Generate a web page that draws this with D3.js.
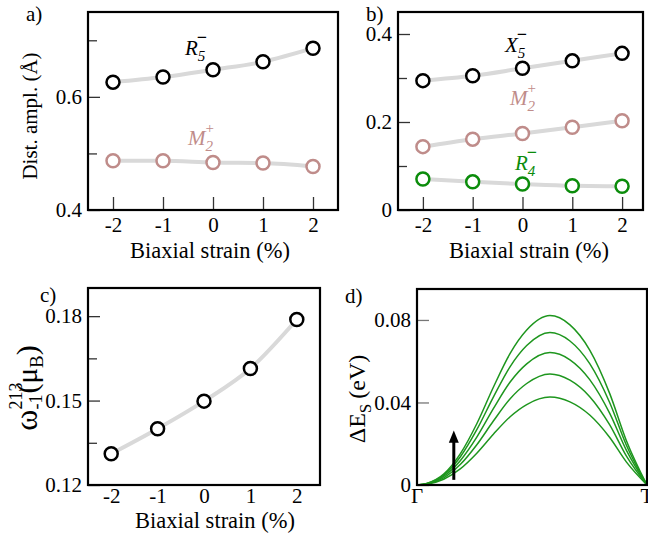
<!DOCTYPE html>
<html>
<head>
<meta charset="utf-8">
<script src="https://cdn.jsdelivr.net/npm/d3@7"></script>
<style>
body { margin: 0; background: #fff; }
text { font-family: "Liberation Serif", "Times New Roman", Tinos, serif; fill: #000; }
</style>
</head>
<body>
<div id="wrapper"></div>
<script>
width = 648
height = 540

// strain values shared by panels a, b, c
const strain = [-2, -1, 0, 1, 2]

// a) distortion amplitudes
const aR5 = [0.626, 0.635, 0.648, 0.662, 0.686]
const aM2 = [0.487, 0.487, 0.484, 0.483, 0.477]

// b)
const bX5 = [0.294, 0.305, 0.322, 0.339, 0.356]
const bM2 = [0.144, 0.161, 0.174, 0.188, 0.203]
const bR4 = [0.0705, 0.064, 0.059, 0.055, 0.054]

// c) omega
const cOmega = [0.1311, 0.140, 0.1498, 0.1614, 0.1788]

// d) energy path, fraction along Γ -> T
const dPos = [0, 0.043, 0.116, 0.188, 0.26, 0.332, 0.405, 0.477, 0.578, 0.665, 0.751, 0.838, 0.91, 1]
const dE1 = [0, 0.0004, 0.0028, 0.0078, 0.0154, 0.0246, 0.0331, 0.0390, 0.0426, 0.0403, 0.0339, 0.0230, 0.0112, 0]
const dE2 = [0, 0.0005, 0.0035, 0.0099, 0.0195, 0.0310, 0.0418, 0.0492, 0.0538, 0.0508, 0.0428, 0.0291, 0.0141, 0]
const dE3 = [0, 0.0006, 0.0042, 0.0118, 0.0232, 0.0370, 0.0499, 0.0587, 0.0642, 0.0607, 0.0511, 0.0347, 0.0169, 0]
const dE4 = [0, 0.0007, 0.0048, 0.0136, 0.0268, 0.0426, 0.0574, 0.0676, 0.0739, 0.0698, 0.0588, 0.0399, 0.0194, 0]
const dE5 = [0, 0.0008, 0.0053, 0.0151, 0.0297, 0.0474, 0.0638, 0.0751, 0.0821, 0.0776, 0.0654, 0.0443, 0.0216, 0]
const dPathLabels = ["Γ", "T"]

const black = "#000", rosy = "#bf8c8a", green = "#0b8c0b", lineGreen = "#1e961e", gray = "#d9d9d9"
const serif = '"Liberation Serif", "Times New Roman", Tinos, serif'

const svg = d3.select("#wrapper").append("svg")
    .attr("width", width)
    .attr("height", height)
    .attr("font-family", serif)

// puts pieces of text one after another (sub/superscripts), optionally centred and rotated
function richText(x, y, pieces, center, rotate) {
    const g = svg.append("g").attr("transform", `translate(${x},${y})` + (rotate ? " rotate(-90)" : ""))
    let cx = 0
    pieces.forEach(p => {
        const t = g.append("text")
            .attr("x", cx + (p.dx || 0))
            .attr("y", p.dy || 0)
            .style("font-family", serif)
            .style("font-size", p.size + "px")
            .text(p.text)
        if (p.italic) t.style("font-style", "italic")
        if (p.bold) t.style("font-weight", "bold")
        if (p.fill) t.style("fill", p.fill)
        const w = t.node().getComputedTextLength()
        if (!p.stack) cx += w + (p.dx || 0)
    })
    if (center) g.selectAll("text").attr("x", function () { return +d3.select(this).attr("x") - cx / 2 })
    return g
}

function modeLabel(x, y, base, sub, sup, color) {
    const supPiece = sup === "−"
        ? { text: "−", size: 18, dy: -12, dx: -1, bold: true, fill: color }
        : { text: sup, size: 15, dy: -12, fill: color }
    richText(x, y, [
        { text: base, size: 21, italic: true, fill: color },
        { text: sub, size: 15, dy: 6, italic: true, fill: color, stack: true },
        supPiece
    ])
}

function styleTicks(sel, color) {
    sel.select(".domain").remove()
    sel.attr("font-family", null)
    sel.selectAll("line").attr("stroke", color).attr("stroke-width", 1.3)
    sel.selectAll("text").style("font-family", serif).style("font-size", "21px")
}

function panel(xr, yr, xd, yd, major, fmt, minor, xTicks, tickColor) {
    const x = d3.scaleLinear().domain(xd).range(xr)
    const y = d3.scaleLinear().domain(yd).range(yr)
    const g = svg.append("g")

    const yAxis = g.append("g")
        .attr("transform", `translate(${xr[0]},0)`)
        .call(d3.axisLeft(y).tickValues(major).tickSize(-12).tickPadding(6)
            .tickFormat(d => d === 0 ? "0" : d3.format(fmt)(d)))
    styleTicks(yAxis, tickColor)

    if (minor.length) {
        const m = g.append("g")
            .attr("transform", `translate(${xr[0]},0)`)
            .call(d3.axisLeft(y).tickValues(minor).tickSize(-9).tickFormat(""))
        styleTicks(m, tickColor)
    }

    if (xTicks) {
        const xAxis = g.append("g")
            .attr("transform", `translate(0,${yr[0]})`)
            .call(d3.axisBottom(x).tickValues(strain).tickSize(-13).tickPadding(7).tickFormat(d => String(d)))
        styleTicks(xAxis, tickColor)
    }
    return { x, y, g }
}

function frame(p) {
    const [x0, x1] = p.x.range(), [y0, y1] = p.y.range()
    p.g.append("rect")
        .attr("x", x0).attr("y", y1)
        .attr("width", x1 - x0).attr("height", y0 - y1)
        .attr("fill", "none").attr("stroke", black).attr("stroke-width", 2.2)
}

function series(p, values, color) {
    const line = d3.line()
        .x((d, i) => p.x(strain[i]))
        .y(d => p.y(d))
        .curve(d3.curveMonotoneX)
    p.g.append("path")
        .attr("d", line(values))
        .attr("fill", "none")
        .attr("stroke", gray)
        .attr("stroke-width", 4)
    p.g.selectAll(null)
        .data(values)
        .join("circle")
        .attr("cx", (d, i) => p.x(strain[i]))
        .attr("cy", d => p.y(d))
        .attr("r", 6.5)
        .attr("fill", "#fff")
        .attr("stroke", color)
        .attr("stroke-width", 2.5)
}

function xLabel(x, y) {
    svg.append("text")
        .attr("x", x).attr("y", y)
        .attr("text-anchor", "middle")
        .style("font-family", serif)
        .style("font-size", "22.5px")
        .text("Biaxial strain (%)")
}

function panelLetter(x, y, s) {
    svg.append("text").attr("x", x).attr("y", y)
        .style("font-family", serif).style("font-size", "21px").text(s)
}

// ---- a)
const pa = panel([88, 338], [210, 12], [-2.5, 2.5], [0.4, 0.75], [0.4, 0.6], ".1f", [0.5, 0.7], true, "#333")
series(pa, aR5, black)
series(pa, aM2, rosy)
frame(pa)
modeLabel(185, 55, "R", "5", "−", black)
modeLabel(188, 145, "M", "2", "+", rosy)
xLabel(210, 258)
panelLetter(26, 21, "a)")
svg.append("text")
    .attr("transform", "translate(37,116) rotate(-90)")
    .attr("text-anchor", "middle")
    .style("font-family", serif)
    .style("font-size", "21px")
    .text("Dist. ampl. (Å)")

// ---- b)
const pb = panel([398, 643], [210, 12], [-2.5, 2.42], [0, 0.45], [0, 0.2, 0.4], ".1f", [0.1, 0.3], true, "#333")
series(pb, bX5, black)
series(pb, bM2, rosy)
series(pb, bR4, green)
frame(pb)
modeLabel(505, 52, "X", "5", "−", black)
modeLabel(510, 105, "M", "2", "+", rosy)
modeLabel(515, 170, "R", "4", "−", green)
xLabel(529, 258)
panelLetter(366, 21, "b)")

// ---- c)
const pc = panel([88, 320], [485, 288], [-2.5, 2.5], [0.12, 0.19], [0.12, 0.15, 0.18], ".2f", [0.135, 0.165], false, "#333")
const cxAxis = pc.g.append("g")
    .attr("transform", "translate(0,485)")
    .call(d3.axisBottom(pc.x).tickValues(strain).tickSize(0).tickPadding(3).tickFormat(d => String(d)))
styleTicks(cxAxis, "#333")
series(pc, cOmega, black)
frame(pc)
xLabel(215, 528)
panelLetter(40, 302, "c)")
richText(37, 388, [
    { text: "ω", size: 32 },
    { text: "213", size: 18, dy: -15, stack: true },
    { text: "-1", size: 18, dy: 5 },
    { text: "(", size: 30, dx: 1 },
    { text: "μ", size: 29 },
    { text: "B", size: 19, dy: 6 },
    { text: ")", size: 30 }
], true, true)

// ---- d)
const pd = panel([417, 647], [485, 289], [0, 1], [0, 0.095], [0, 0.04, 0.08], ".2f", [], false, "#777")
const dLine = d3.line()
    .x((d, i) => pd.x(dPos[i]))
    .y(d => pd.y(d))
    .curve(d3.curveMonotoneX)
pd.g.selectAll(null)
    .data([dE1, dE2, dE3, dE4, dE5])
    .join("path")
    .attr("d", dLine)
    .attr("fill", "none")
    .attr("stroke", lineGreen)
    .attr("stroke-width", 1.5)
// arrow: curves rise with strain
const ax = pd.x(0.16)
pd.g.append("line")
    .attr("x1", ax).attr("x2", ax)
    .attr("y1", pd.y(0.0025)).attr("y2", pd.y(0.0235))
    .attr("stroke", black).attr("stroke-width", 3)
pd.g.append("path")
    .attr("d", `M${ax},${pd.y(0.0255) - 2} L${ax - 5},${pd.y(0.0205)} L${ax + 5},${pd.y(0.0205)} Z`)
    .attr("fill", black)
frame(pd)
pd.g.selectAll(null)
    .data(dPathLabels)
    .join("text")
    .attr("x", (d, i) => pd.x(i))
    .attr("y", 503)
    .attr("text-anchor", "middle")
    .style("font-family", serif)
    .style("font-size", "21px")
    .text(d => d)
panelLetter(345, 303, "d)")
richText(365, 399, [
    { text: "ΔE", size: 24 },
    { text: "S", size: 17, dy: 6 },
    { text: "(eV)", size: 24, dx: 5 }
], true, true)
</script>
</body>
</html>
